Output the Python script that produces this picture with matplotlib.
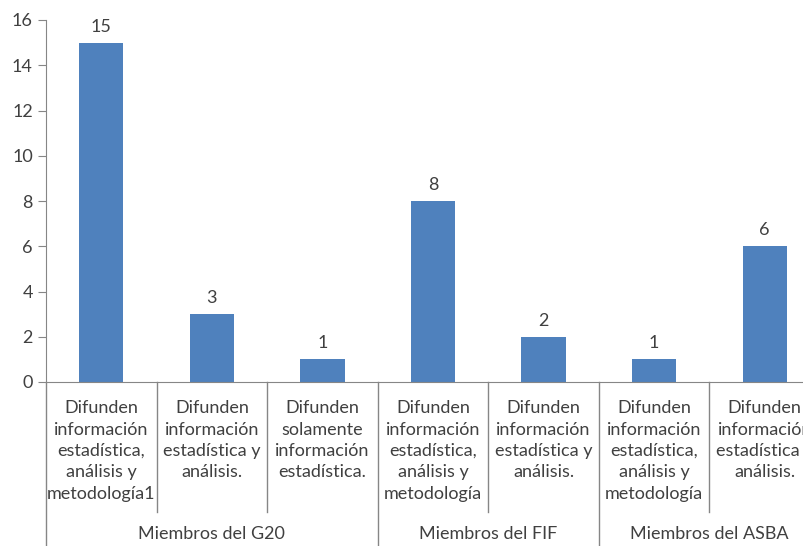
import numpy as np
import matplotlib.pyplot as plt

plt.rcParams['font.family'] = ['Lato', 'DejaVu Sans']

categories = [
    'Difunden\ninformación\nestadística,\nanálisis y\nmetodología1',
    'Difunden\ninformación\nestadística y\nanálisis.',
    'Difunden\nsolamente\ninformación\nestadística.',
    'Difunden\ninformación\nestadística,\nanálisis y\nmetodología',
    'Difunden\ninformación\nestadística y\nanálisis.',
    'Difunden\ninformación\nestadística,\nanálisis y\nmetodología',
    'Difunden\ninformación\nestadística y\nanálisis.',
]
values = [15, 3, 1, 8, 2, 1, 6]
groups = ['Miembros del G20', 'Miembros del FIF', 'Miembros del ASBA']
group_sizes = [3, 2, 2]

BAR_COLOR = '#4F81BD'
AXIS_COLOR = '#868686'
TEXT_COLOR = '#404040'
FS = 13

fig = plt.figure(figsize=(8.04, 5.46), dpi=100)
ax = fig.add_axes([46 / 804, 164 / 546, 774 / 804, 362 / 546])

x = np.arange(len(values))
bars = ax.bar(x, values, width=0.4, color=BAR_COLOR)
for xi, v in zip(x, values):
    ax.text(xi, v + 0.35, str(v), ha='center', va='bottom', fontsize=FS, color=TEXT_COLOR)

ax.set_xlim(-0.5, len(values) - 0.5)
ax.set_ylim(0, 16)
ax.set_yticks(np.arange(0, 17, 2))
ax.tick_params(axis='y', colors=AXIS_COLOR, labelcolor=TEXT_COLOR, labelsize=FS, length=6)
ax.set_xticks([])
for s in ['top', 'right']:
    ax.spines[s].set_visible(False)
for s in ['left', 'bottom']:
    ax.spines[s].set_color(AXIS_COLOR)

trans = ax.get_xaxis_transform()

# category labels and separators
for xi, lab in zip(x, categories):
    ax.text(xi, -0.05, lab, transform=trans, ha='center', va='top',
            fontsize=FS, color=TEXT_COLOR, linespacing=1.42, clip_on=False)

bounds = np.cumsum([0] + group_sizes) - 0.5
for i in range(len(values) + 1):
    xb = i - 0.5
    y_end = -0.46 if xb in bounds else -0.36
    ax.plot([xb, xb], [0, y_end], transform=trans, color=AXIS_COLOR,
            lw=1, clip_on=False)

# group labels
for g, a, b in zip(groups, bounds[:-1], bounds[1:]):
    ax.text((a + b) / 2, -0.42, g, transform=trans, ha='center', va='center',
            fontsize=FS, color=TEXT_COLOR, clip_on=False)

plt.savefig('out.png', dpi=100)
